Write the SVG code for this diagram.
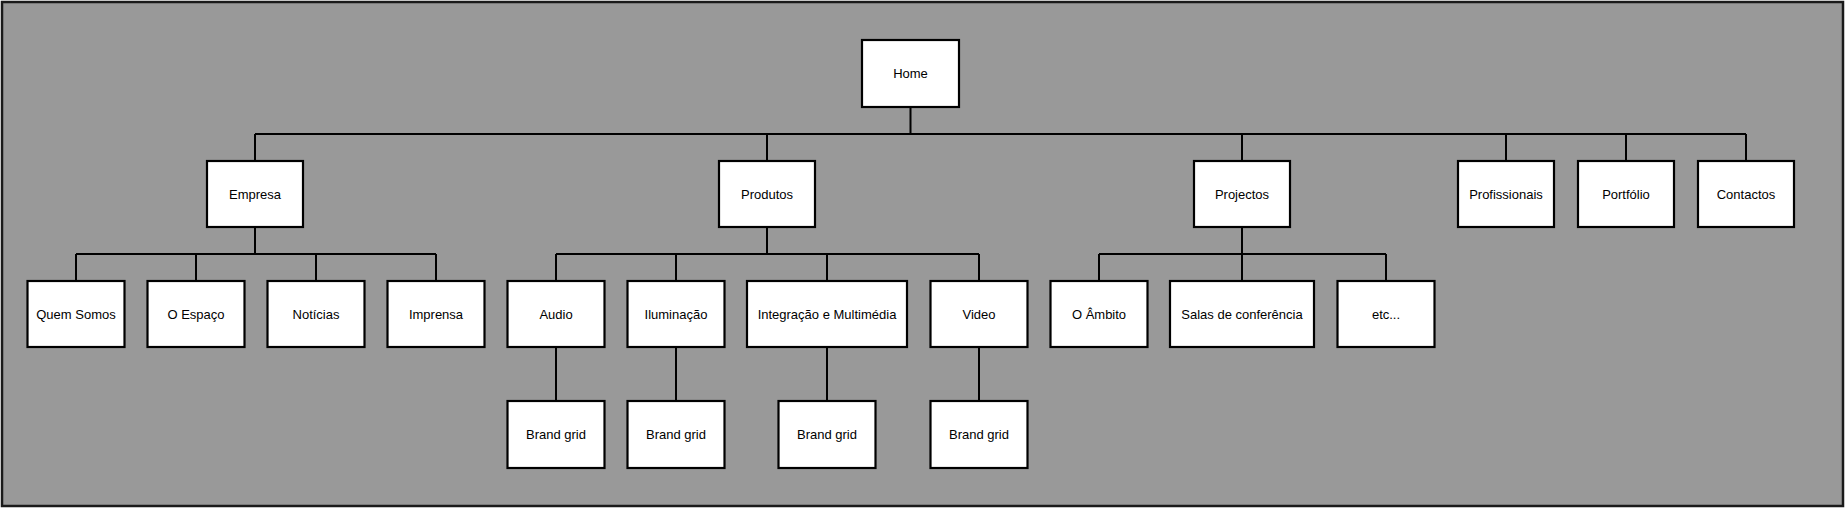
<svg xmlns="http://www.w3.org/2000/svg" width="1845" height="508" viewBox="0 0 1845 508">
<style>
.bg{fill:#999999;stroke:#1a1a1a;stroke-width:2.5}
.box{fill:#ffffff;stroke:#000000;stroke-width:2.2}
.lbl{font-family:"Liberation Sans",Arial,sans-serif;font-size:13px;fill:#000000;text-anchor:middle;dominant-baseline:central}
.con{fill:none;stroke:#000000;stroke-width:2}
</style>
<rect class="bg" x="2" y="2" width="1841" height="504"/>
<g id="connectors">
<path class="con" d="M910.5 107V134M255 134H1746M255 134V161M767 134V161M1242 134V161M1506 134V161M1626 134V161M1746 134V161"/>
<path class="con" d="M255 227V254M76 254H436M76 254V281M196 254V281M316 254V281M436 254V281"/>
<path class="con" d="M767 227V254M556 254H979M556 254V281M676 254V281M827 254V281M979 254V281"/>
<path class="con" d="M1242 227V254M1099 254H1386M1099 254V281M1242 254V281M1386 254V281"/>
<path class="con" d="M556 347V401M676 347V401M827 347V401M979 347V401"/>
</g>
<g id="home"><rect class="box" x="862" y="40" width="97" height="67"/><text class="lbl" x="910.5" y="73.5">Home</text></g>
<g id="empresa"><rect class="box" x="207" y="161" width="96" height="66"/><text class="lbl" x="255" y="194">Empresa</text></g>
<g id="produtos"><rect class="box" x="719" y="161" width="96" height="66"/><text class="lbl" x="767" y="194">Produtos</text></g>
<g id="projectos"><rect class="box" x="1194" y="161" width="96" height="66"/><text class="lbl" x="1242" y="194">Projectos</text></g>
<g id="profissionais"><rect class="box" x="1458" y="161" width="96" height="66"/><text class="lbl" x="1506" y="194">Profissionais</text></g>
<g id="portfolio"><rect class="box" x="1578" y="161" width="96" height="66"/><text class="lbl" x="1626" y="194">Portfólio</text></g>
<g id="contactos"><rect class="box" x="1698" y="161" width="96" height="66"/><text class="lbl" x="1746" y="194">Contactos</text></g>
<g id="quem-somos"><rect class="box" x="27.5" y="281" width="97" height="66"/><text class="lbl" x="76" y="314">Quem Somos</text></g>
<g id="o-espaco"><rect class="box" x="147.5" y="281" width="97" height="66"/><text class="lbl" x="196" y="314">O Espaço</text></g>
<g id="noticias"><rect class="box" x="267.5" y="281" width="97" height="66"/><text class="lbl" x="316" y="314">Notícias</text></g>
<g id="imprensa"><rect class="box" x="387.5" y="281" width="97" height="66"/><text class="lbl" x="436" y="314">Imprensa</text></g>
<g id="audio"><rect class="box" x="507.5" y="281" width="97" height="66"/><text class="lbl" x="556" y="314">Audio</text></g>
<g id="iluminacao"><rect class="box" x="627.5" y="281" width="97" height="66"/><text class="lbl" x="676" y="314">Iluminação</text></g>
<g id="integracao"><rect class="box" x="747" y="281" width="160" height="66"/><text class="lbl" x="827" y="314">Integração e Multimédia</text></g>
<g id="video"><rect class="box" x="930.5" y="281" width="97" height="66"/><text class="lbl" x="979" y="314">Video</text></g>
<g id="o-ambito"><rect class="box" x="1050.5" y="281" width="97" height="66"/><text class="lbl" x="1099" y="314">O Âmbito</text></g>
<g id="salas"><rect class="box" x="1170" y="281" width="144" height="66"/><text class="lbl" x="1242" y="314">Salas de conferência</text></g>
<g id="etc"><rect class="box" x="1337.5" y="281" width="97" height="66"/><text class="lbl" x="1386" y="314">etc...</text></g>
<g id="brand-audio"><rect class="box" x="507.5" y="401" width="97" height="67"/><text class="lbl" x="556" y="434.5">Brand grid</text></g>
<g id="brand-iluminacao"><rect class="box" x="627.5" y="401" width="97" height="67"/><text class="lbl" x="676" y="434.5">Brand grid</text></g>
<g id="brand-integracao"><rect class="box" x="778.5" y="401" width="97" height="67"/><text class="lbl" x="827" y="434.5">Brand grid</text></g>
<g id="brand-video"><rect class="box" x="930.5" y="401" width="97" height="67"/><text class="lbl" x="979" y="434.5">Brand grid</text></g>
</svg>
